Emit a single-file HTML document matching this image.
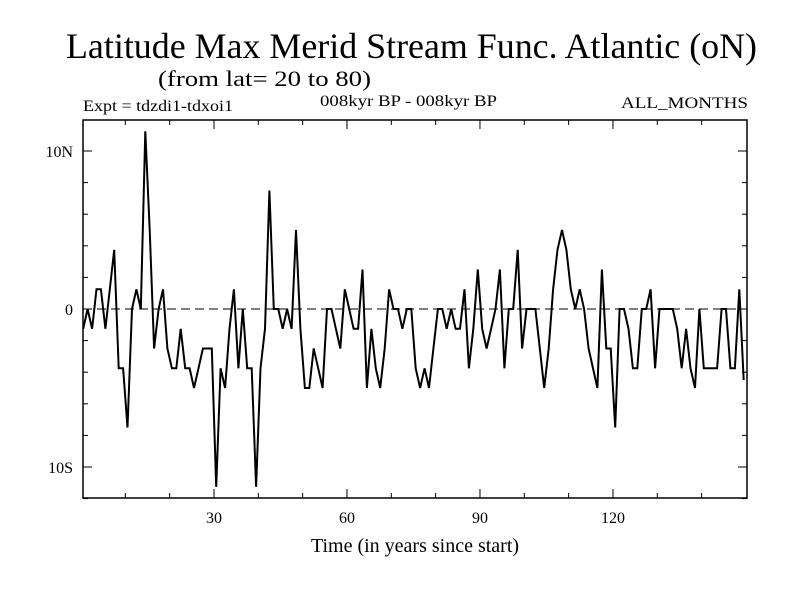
<!DOCTYPE html>
<html><head><meta charset="utf-8"><style>
body{margin:0;background:#fff;}
svg{display:block;font-family:"Liberation Serif",serif;}
</style></head><body>
<svg id="chart" width="800" height="600" xmlns="http://www.w3.org/2000/svg">
<text x="66" y="58" font-size="36" textLength="691" lengthAdjust="spacingAndGlyphs">Latitude Max Merid Stream Func. Atlantic (oN)</text>
<text x="158" y="86" font-size="22" textLength="213" lengthAdjust="spacingAndGlyphs">(from lat= 20 to 80)</text>
<text x="83" y="111" font-size="16" textLength="150" lengthAdjust="spacingAndGlyphs">Expt = tdzdi1-tdxoi1</text>
<text x="320" y="106" font-size="16" textLength="177" lengthAdjust="spacingAndGlyphs">008kyr BP - 008kyr BP</text>
<text x="621" y="108" font-size="16" textLength="127" lengthAdjust="spacingAndGlyphs">ALL_MONTHS</text>
<text x="415" y="552" font-size="20" text-anchor="middle">Time (in years since start)</text>
<g id="axes"></g>
<g id="series"></g>
<rect x="83" y="120" width="664" height="378" fill="none" stroke="#000" stroke-width="1.5"/>
</svg>
<script>
const xTicks=[30,60,90,120];
const yTicks=[10,0,-10];
const yTickLabels=["10N","0","10S"];
const years=[];for(let i=0;i<150;i++)years.push(i+0.5);
const values=[
-1.25,0,-1.25,1.25,1.25,-1.25,1.25,3.75,-3.75,-3.75,
-7.5,0,1.25,0,11.25,5,-2.5,0,1.25,-2.5,
-3.75,-3.75,-1.25,-3.75,-3.75,-5,-3.75,-2.5,-2.5,-2.5,
-11.25,-3.75,-5,-1.25,1.25,-3.75,0,-3.75,-3.75,-11.25,
-3.75,-1.25,7.5,0,0,-1.25,0,-1.25,5,-1.25,
-5,-5,-2.5,-3.75,-5,0,0,-1.25,-2.5,1.25,
0,-1.25,-1.25,2.5,-5,-1.25,-3.75,-5,-2.5,1.25,
0,0,-1.25,0,0,-3.75,-5,-3.75,-5,-2.5,
0,0,-1.25,0,-1.25,-1.25,1.25,-3.75,-1.25,2.5,
-1.25,-2.5,-1.25,0,2.5,-3.75,0,0,3.75,-2.5,
0,0,0,-2.5,-5,-2.5,1.25,3.75,5,3.75,
1.25,0,1.25,0,-2.5,-3.75,-5,2.5,-2.5,-2.5,
-7.5,0,0,-1.25,-3.75,-3.75,0,0,1.25,-3.75,
0,0,0,0,-1.25,-3.75,-1.25,-3.75,-5,0,
-3.75,-3.75,-3.75,-3.75,0,0,-3.75,-3.75,1.25,-4.5
];
const X0=83,X1=747,Y0=120,Y1=498;
function sx(v){return 81+4.433*v;}
function sy(v){return 309-15.8*v;}
const NS="http://www.w3.org/2000/svg";
const axes=document.getElementById('axes');
function line(x1,y1,x2,y2,name,w,dash){const l=document.createElementNS(NS,'line');
l.setAttribute('x1',x1);l.setAttribute('y1',y1);l.setAttribute('x2',x2);l.setAttribute('y2',y2);
l.setAttribute('stroke','#000');l.setAttribute('stroke-width',w||1);if(dash)l.setAttribute('stroke-dasharray',dash);


axes.appendChild(l);return l;}
function text(x,y,s,anchor,name){const t=document.createElementNS(NS,'text');
t.setAttribute('x',x);t.setAttribute('y',y);t.setAttribute('font-size','16');t.setAttribute('text-anchor',anchor);t.textContent=s;


axes.appendChild(t);}
for(let v=10;v<150;v+=10){const x=sx(v);const major=xTicks.includes(v);const L=major?9:5;
line(x,Y1,x,Y1-L,'x-tick');line(x,Y0,x,Y0+L,'x-tick-top');}
xTicks.forEach(v=>text(sx(v),523,String(v),'middle','x-tick-label'));
for(let v=-12;v<=10;v+=2){const y=sy(v);const major=yTicks.includes(v);const L=major?9:5;
line(X0,y,X0+L,y,'y-tick');line(X1,y,X1-L,y,'y-tick-right');}
yTicks.forEach((v,i)=>text(73,sy(v)+6,yTickLabels[i],'end','y-tick-label'));
line(X0,sy(0),X1,sy(0),'zero-line',1,'9,5');
const s=document.getElementById('series');
const p=document.createElementNS(NS,'polyline');
p.setAttribute('points',years.map((t,i)=>sx(t).toFixed(1)+','+sy(values[i]).toFixed(1)).join(' '));
p.setAttribute('fill','none');p.setAttribute('stroke','#000');p.setAttribute('stroke-width','2');


s.appendChild(p);
</script>
</body></html>
